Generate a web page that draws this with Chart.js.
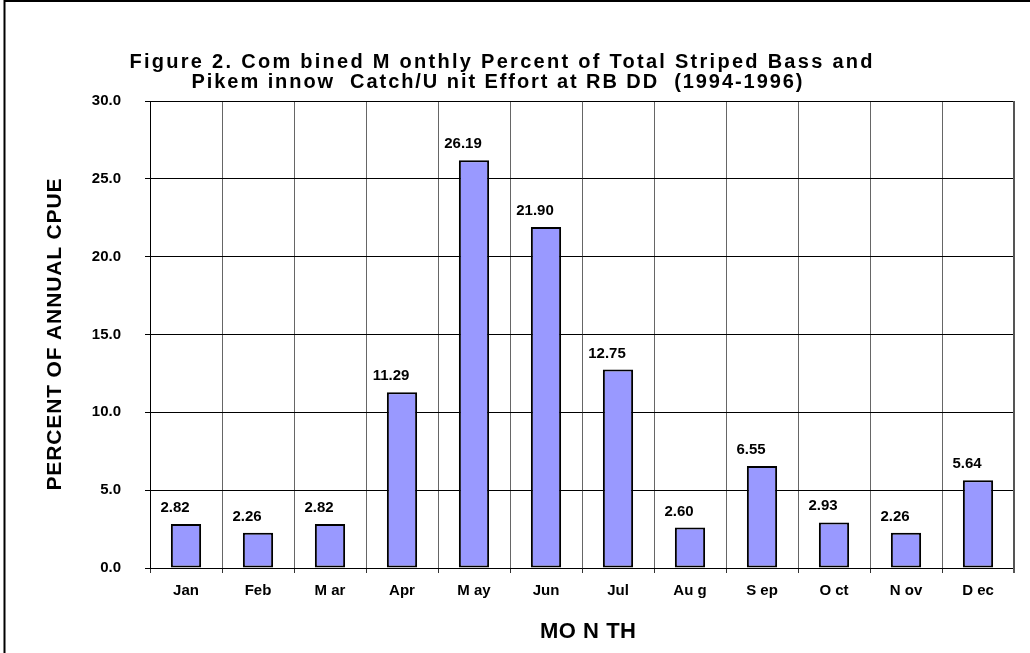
<!DOCTYPE html>
<html>
<head>
<meta charset="utf-8">
<script src="https://cdn.jsdelivr.net/npm/chart.js@4.4.1/dist/chart.umd.min.js"></script>
<style>
  html, body { margin: 0; padding: 0; background: #fff; }
  #wrap { width: 1030px; height: 653px; position: relative; }
</style>
</head>
<body>
<div id="wrap"><canvas id="cpueChart" width="1030" height="653"></canvas></div>
<script>
var months = ['Jan', 'Feb', 'M ar', 'Apr', 'M ay', 'Jun', 'Jul', 'Au g', 'S ep', 'O ct', 'N ov', 'D ec'];
var percents = [2.82, 2.26, 2.82, 11.29, 26.19, 21.90, 12.75, 2.60, 6.55, 2.93, 2.26, 5.64];
var yTicks = [0, 5, 10, 15, 20, 25, 30];
var titleLines = ['Figure 2. Com bined M onthly Percent of Total Striped Bass and',
                  'Pikem innow  Catch/U nit Effort at RB DD  (1994-1996)'];
var yTitle = 'PERCENT OF ANNUAL CPUE';
var xTitle = 'MO N TH';

// draws text with extra spacing so it spans a given width
function spacedText(ctx, text, x, y, width) {
    ctx.letterSpacing = '0px';
    var w = ctx.measureText(text).width;
    var gap = (width - w) / (text.length - 1);
    ctx.letterSpacing = gap + 'px';
    ctx.fillText(text, x + gap / 2, y);
    ctx.letterSpacing = '0px';
}

var decorations = {
    id: 'decorations',
    afterDraw: function (chart) {
        var ctx = chart.ctx;
        var area = chart.chartArea;
        ctx.save();

        // outer frame
        ctx.strokeStyle = '#000';
        ctx.lineWidth = 2;
        ctx.beginPath();
        ctx.moveTo(4.5, 653);
        ctx.lineTo(4.5, 1);
        ctx.lineTo(1030, 1);
        ctx.stroke();

        // right edge of plot
        ctx.strokeStyle = '#555';
        ctx.lineWidth = 2;
        ctx.beginPath();
        ctx.moveTo(area.right, area.top);
        ctx.lineTo(area.right, area.bottom + 5);
        ctx.stroke();

        ctx.fillStyle = '#000';
        ctx.textAlign = 'center';
        ctx.textBaseline = 'middle';

        // title
        ctx.font = 'bold 20px "Liberation Sans", Arial, sans-serif';
        spacedText(ctx, titleLines[0], 501, 62, 743);
        spacedText(ctx, titleLines[1], 497, 82, 611);

        // axis titles
        ctx.font = 'bold 22px "Liberation Sans", Arial, sans-serif';
        spacedText(ctx, xTitle, 588, 632, 96);
        ctx.font = 'bold 21px "Liberation Sans", Arial, sans-serif';
        ctx.translate(55, (area.top + area.bottom) / 2);
        ctx.rotate(-Math.PI / 2);
        spacedText(ctx, yTitle, 0, 0, 312);
        ctx.setTransform(1, 0, 0, 1, 0, 0);

        // value labels above bars
        ctx.font = 'bold 15px "Liberation Sans", Arial, sans-serif';
        ctx.textBaseline = 'alphabetic';
        var meta = chart.getDatasetMeta(0);
        meta.data.forEach(function (bar, i) {
            ctx.fillText(percents[i].toFixed(2), bar.x - 11, bar.y - 12);
        });
        ctx.restore();
    }
};

var ctx = document.getElementById('cpueChart').getContext('2d');
var chart = new Chart(ctx, {
    type: 'bar',
    data: {
        labels: months,
        datasets: [{
            data: percents,
            backgroundColor: '#9999FF',
            borderColor: '#000',
            borderWidth: 2,
            borderSkipped: false,
            barPercentage: 0.42,
            categoryPercentage: 1
        }]
    },
    options: {
        responsive: false,
        animation: false,
        layout: { padding: { left: 0, right: 16, top: 101, bottom: 0 } },
        plugins: {
            legend: { display: false },
            tooltip: { enabled: false },
            title: { display: false }
        },
        scales: {
            x: {
                offset: true,
                grid: { offset: true, color: '#666', lineWidth: 1, tickLength: 5, tickColor: '#333' },
                border: { color: '#000', width: 1 },
                ticks: {
                    color: '#000',
                    padding: 9,
                    maxRotation: 0,
                    font: { family: '"Liberation Sans", Arial, sans-serif', size: 15, weight: 'bold' }
                },
                afterFit: function (scale) { scale.height = 85; }
            },
            y: {
                min: 0,
                max: 30,
                afterBuildTicks: function (scale) {
                    scale.ticks = yTicks.map(function (v) { return { value: v }; });
                },
                grid: { color: '#000', lineWidth: 1, tickLength: 5 },
                border: { color: '#000', width: 1 },
                ticks: {
                    color: '#000',
                    padding: 24,
                    callback: function (v) { return Number(v).toFixed(1); },
                    font: { family: '"Liberation Sans", Arial, sans-serif', size: 15, weight: 'bold' }
                },
                afterFit: function (scale) { scale.width = 150; }
            }
        }
    },
    plugins: [decorations]
});
</script>
</body>
</html>
